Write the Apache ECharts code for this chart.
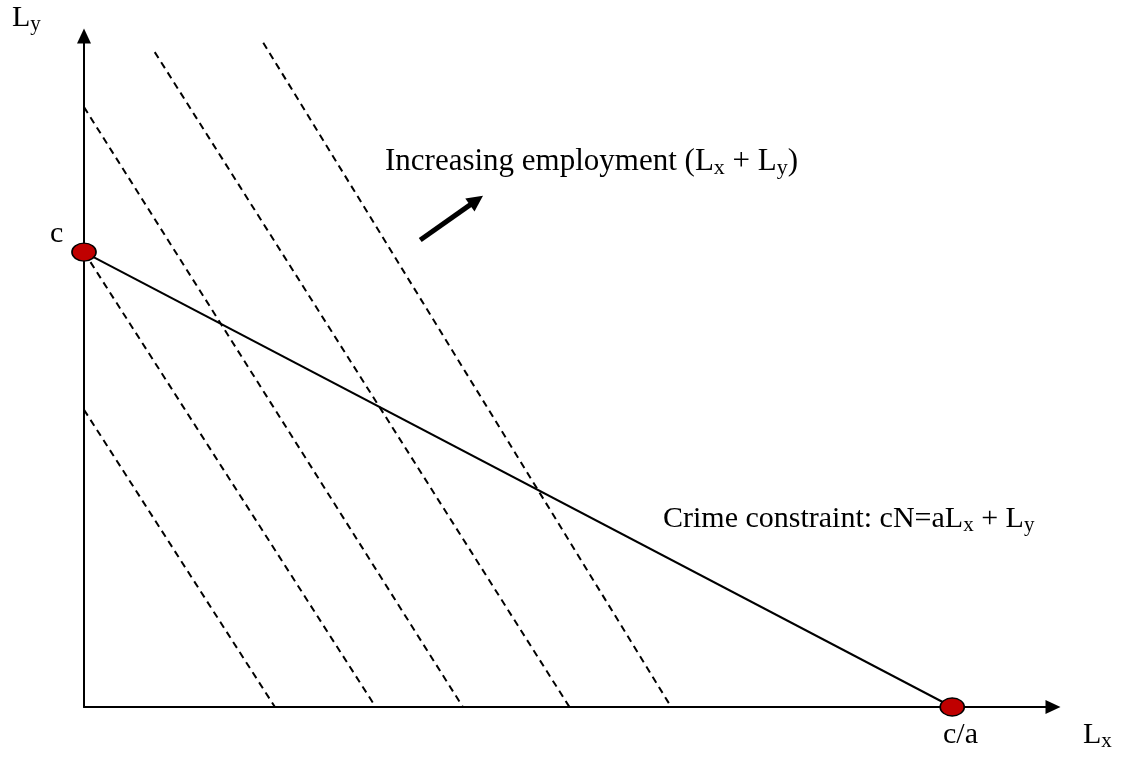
<!DOCTYPE html>
<html>
<head>
<meta charset="utf-8">
<style>
  html, body { margin: 0; padding: 0; background: #fff; }
  #chart { width: 1121px; height: 758px; }
</style>
<script src="https://cdn.jsdelivr.net/npm/echarts@6/dist/echarts.min.js"></script>
</head>
<body>
<div id="chart"></div>
<script>
// ---- data (arbitrary diagram units: x 0..100, y 0..100) ----
var xRange = [0, 100];
var yRange = [0, 100];
var pointC = [0, 67.8];          // c on the Ly axis
var pointCA = [89.6, 0];         // c/a on the Lx axis
var constraintLine = [pointC, pointCA];
var isoLine1 = [[0, 44.3], [19.7, 0]];
var isoLine2 = [[0, 67.8], [30.1, 0]];
var isoLine3 = [[0, 89.4], [39.1, 0]];
var isoLine4 = [[7.3, 97.6], [50.1, 0]];
var isoLine5 = [[18.5, 99.0], [60.6, 0]];
var isoLines = [isoLine1, isoLine2, isoLine3, isoLine4, isoLine5];
var directionArrow = [[34.7, 69.6], [40.5, 75.5]];

var FONT = "'Liberation Serif', 'Times New Roman', serif";
var rich = {
  m: { fontFamily: FONT, fontSize: 30, lineHeight: 34, color: '#000' },
  s: { fontFamily: FONT, fontSize: 21, lineHeight: 24, color: '#000', verticalAlign: 'bottom' }
};
var richBig = {
  m: { fontFamily: FONT, fontSize: 31, lineHeight: 35, color: '#000' },
  s: { fontFamily: FONT, fontSize: 22, lineHeight: 25, color: '#000', verticalAlign: 'bottom' }
};

function textEl(text, left, top, r) {
  return {
    type: 'text', left: left, top: top, z: 100,
    style: { text: text, rich: r || rich, fill: '#000' }
  };
}

var series = [];
isoLines.forEach(function (d) {
  series.push({
    type: 'line', data: d, symbol: 'none', clip: false, silent: true,
    lineStyle: { color: '#000', width: 2, type: [7, 5] }, z: 2
  });
});
series.push({
  type: 'line', data: constraintLine, symbol: 'none', clip: false, silent: true,
  lineStyle: { color: '#000', width: 2 }, z: 3
});
series.push({
  type: 'lines', coordinateSystem: 'cartesian2d', silent: true,
  data: [{ coords: directionArrow }],
  symbol: ['none', 'triangle'], symbolSize: [17, 16],
  lineStyle: { color: '#000', width: 5, opacity: 1, curveness: 0 },
  itemStyle: { color: '#000' }, z: 4
});
series.push({
  type: 'scatter', data: [pointC, pointCA], clip: false, silent: true,
  symbol: 'circle', symbolSize: [24, 18],
  itemStyle: { color: '#C00000', borderColor: '#000', borderWidth: 1.5, opacity: 1 },
  z: 5
});

var axisCommon = {
  type: 'value',
  axisLine: {
    show: true, onZero: true,
    symbol: ['none', 'triangle'], symbolSize: [14, 15],
    lineStyle: { color: '#000', width: 2 }
  },
  axisTick: { show: false },
  axisLabel: { show: false },
  splitLine: { show: false }
};

var chart = echarts.init(document.getElementById('chart'), null, { renderer: 'canvas' });
chart.setOption({
  animation: false,
  backgroundColor: '#fff',
  grid: { left: 84, right: 68, top: 36, bottom: 51, containLabel: false, outerBoundsMode: 'none' },
  xAxis: Object.assign({}, axisCommon, { min: xRange[0], max: xRange[1] }),
  yAxis: Object.assign({}, axisCommon, { min: yRange[0], max: yRange[1] }),
  series: series,
  graphic: [
    textEl('{m|L}{s|y}', 12, 3),
    textEl('{m|c}', 50, 219),
    textEl('{m|c/a}', 943, 720),
    textEl('{m|L}{s|x}', 1083, 720),
    textEl('{m|Increasing employment (L}{s|x}{m| + L}{s|y}{m|)}', 385, 146, richBig),
    textEl('{m|Crime constraint: cN=aL}{s|x}{m| + L}{s|y}', 663, 504)
  ]
});
</script>
</body>
</html>
